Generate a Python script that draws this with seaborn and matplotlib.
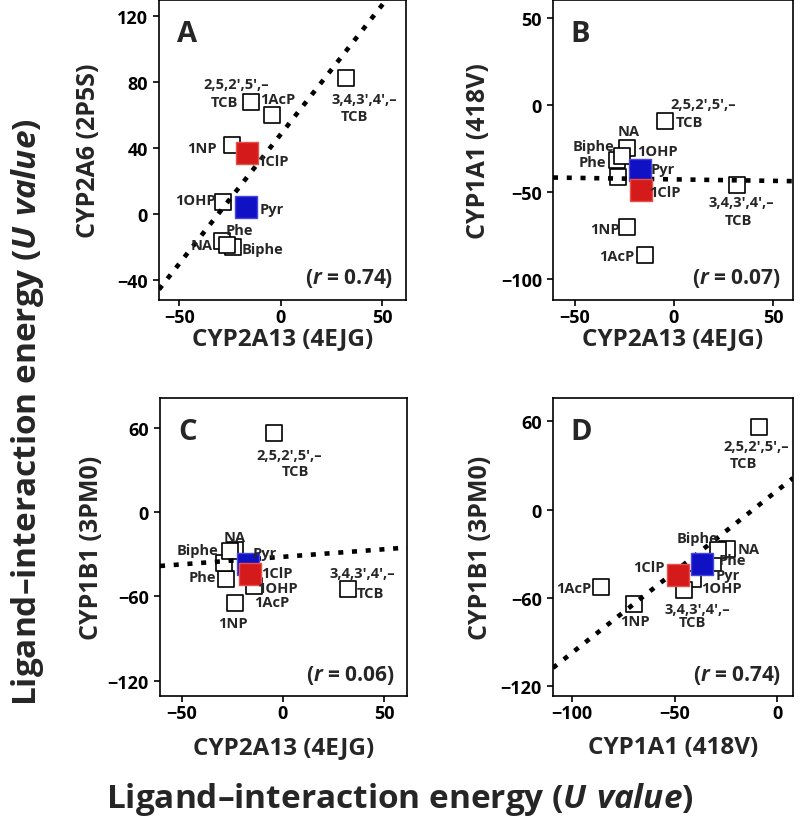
import numpy as np
import pandas as pd
import matplotlib
matplotlib.use("Agg")
import matplotlib.pyplot as plt
import seaborn as sns

# ---------------- data ----------------
compounds = ["1NP", "1AcP", "1ClP", "1OHP", "Pyr", "Phe", "NA", "Biphe", "TCB2525", "TCB3434"]
cyp2a13 = [-23.8, -14.6, -16.5, -28.3, -17.2, -29.0, -23.6, -26.4, -4.5, 32.0]
cyp2a6 = [42.0, 68.0, 37.0, 7.0, 4.0, -16.5, -20.2, -18.6, 60.0, 82.4]
cyp1a1 = [-69.8, -86.0, -48.5, -41.2, -36.9, -31.5, -24.5, -29.0, -9.2, -45.5]
cyp1b1 = [-64.6, -52.5, -44.5, -47.5, -37.2, -36.3, -26.8, -27.5, 56.0, -55.0]
r_values = ["0.74", "0.07", "0.06", "0.74"]
panel_letters = ["A", "B", "C", "D"]
x_titles = ["CYP2A13 (4EJG)", "CYP2A13 (4EJG)", "CYP2A13 (4EJG)", "CYP1A1 (418V)"]
y_titles = ["CYP2A6 (2P5S)", "CYP1A1 (418V)", "CYP1B1 (3PM0)", "CYP1B1 (3PM0)"]
x_ticks = [[-50, 0, 50], [-50, 0, 50], [-50, 0, 50], [-100, -50, 0]]
y_ticks = [[-40, 0, 40, 80, 120], [-100, -50, 0, 50], [-120, -60, 0, 60], [-120, -60, 0, 60]]
tcb1 = "2,5,2',5',\u2013"
tcb2 = "3,4,3',4',\u2013"
big_title = "Ligand\u2013interaction energy ($\\mathit{U\\ value}$)"

# ---------------- style ----------------
sns.set_theme(style="ticks")
plt.rcParams["font.family"] = ["Open Sans", "DejaVu Sans"]
plt.rcParams.update({
    "font.weight": "bold",
    "axes.labelweight": "bold",
    "mathtext.fontset": "custom",
    "mathtext.rm": "Open Sans:bold",
    "mathtext.bf": "Open Sans:bold",
    "mathtext.it": "Open Sans:italic:bold",
    "axes.linewidth": 1.2,
    "axes.edgecolor": "black",
    "xtick.major.width": 1.2,
    "ytick.major.width": 1.2,
    "xtick.major.size": 4,
    "ytick.major.size": 4,
    "xtick.color": "black",
    "ytick.color": "black",
    "axes.unicode_minus": True,
})

W, H = 800, 820
fig = plt.figure(figsize=(W / 100, H / 100), dpi=100)

def add_ax(l, t, r, b):
    return fig.add_axes([l / W, 1 - b / H, (r - l) / W, (b - t) / H])

layout = [
    dict(box=(159, 1, 406, 301), xlim=(-60, 61.7), ylim=(-52, 129.5), ylx=-0.287, xly=-0.128),
    dict(box=(553, 1, 793, 301), xlim=(-61.1, 60.1), ylim=(-111.8, 60.6), ylx=-0.312, xly=-0.128),
    dict(box=(160, 399, 407, 697), xlim=(-60.9, 61.4), ylim=(-131, 81), ylx=-0.279, xly=-0.172),
    dict(box=(553, 399, 793, 697), xlim=(-109.4, 7.6), ylim=(-127, 76), ylx=-0.304, xly=-0.172),
]

# label offsets (pixels) relative to each compound's square
labels = [
    [("TCB2525", tcb1, -35, 31), ("TCB2525", "TCB", -47, 13), ("1AcP", "1AcP", 27, 3),
     ("TCB3434", tcb2, 19, -21), ("TCB3434", "TCB", 9, -38), ("1NP", "1NP", -31, -3),
     ("1ClP", "1ClP", 26, -8), ("1OHP", "1OHP", -28, 2), ("Pyr", "Pyr", 26, -2),
     ("Phe", "Phe", 17, 11), ("NA", "NA", -31, 2), ("Biphe", "Biphe", 35, -4)],
    [("TCB2525", tcb1, 38, 17), ("TCB2525", "TCB", 24, -1), ("NA", "NA", 1, 17),
     ("Biphe", "Biphe", -28, 10), ("1OHP", "1OHP", 39, 26), ("Phe", "Phe", -24, -2),
     ("Pyr", "Pyr", 23, 1), ("1ClP", "1ClP", 24, -2), ("TCB3434", tcb2, 4, -17),
     ("TCB3434", "TCB", 1, -35), ("1NP", "1NP", -22, -2), ("1AcP", "1AcP", -28, -1)],
    [("TCB2525", tcb1, 15, -22), ("TCB2525", "TCB", 22, -38), ("NA", "NA", -1, 13),
     ("Biphe", "Biphe", -32, 1), ("Pyr", "Pyr", 16, 11), ("1OHP", "Phe", -23, 2),
     ("1ClP", "1ClP", 27, 1), ("1AcP", "1OHP", 24, -2), ("1AcP", "1AcP", 18, -16),
     ("1NP", "1NP", -2, -20), ("TCB3434", tcb2, 15, 16), ("TCB3434", "TCB", 23, -4)],
    [("TCB2525", tcb1, -2, -19), ("TCB2525", "TCB", -15, -36), ("Biphe", "Biphe", -20, 12),
     ("NA", "NA", 22, 0), ("Phe", "Phe", 20, 3), ("Pyr", "Pyr", 26, -11),
     ("1OHP", "1OHP", 29, -9), ("1ClP", "1ClP", -29, 8), ("1AcP", "1AcP", -27, -1),
     ("1NP", "1NP", 1, -17), ("TCB3434", tcb2, 13, -19), ("TCB3434", "TCB", 8, -32)],
]

pairs = [(cyp2a13, cyp2a6), (cyp2a13, cyp1a1), (cyp2a13, cyp1b1), (cyp1a1, cyp1b1)]
red, red_edge = "#d41a1a", "#e8504c"
blue, blue_edge = "#1010c4", "#4646e0"

for i, ((xs, ys), lay) in enumerate(zip(pairs, layout)):
    ax = add_ax(*lay["box"])
    df = pd.DataFrame({"compound": compounds, "x": xs, "y": ys})
    ax.set_xlim(*lay["xlim"])
    ax.set_ylim(*lay["ylim"])

    open_df = df[~df["compound"].isin(["Pyr", "1ClP"])]
    sns.scatterplot(data=open_df, x="x", y="y", marker="s", s=135, color="white",
                    edgecolor="black", linewidth=1.2, ax=ax, zorder=2, legend=False)
    sns.regplot(data=df, x="x", y="y", scatter=False, ci=None, truncate=False, ax=ax,
                line_kws=dict(color="black", lw=3.3, linestyle=(0, (1.1, 1.9)), zorder=3))
    sns.scatterplot(data=df[df["compound"] == "Pyr"], x="x", y="y", marker="s", s=240,
                    color=blue, edgecolor=blue_edge, linewidth=1.0, ax=ax, zorder=4, legend=False)
    sns.scatterplot(data=df[df["compound"] == "1ClP"], x="x", y="y", marker="s", s=240,
                    color=red, edgecolor=red_edge, linewidth=1.0, ax=ax, zorder=5, legend=False)
    ax.set_xlim(*lay["xlim"])
    ax.set_ylim(*lay["ylim"])

    pos = dict(zip(df["compound"], zip(df["x"], df["y"])))
    for comp, txt, dx, dy in labels[i]:
        ax.annotate(txt, xy=pos[comp], xytext=(dx, dy), textcoords="offset pixels",
                    ha="center", va="center", fontsize=10.5, fontweight="bold", zorder=6)

    ax.set_xticks(x_ticks[i])
    ax.set_yticks(y_ticks[i])
    ax.tick_params(axis="both", labelsize=13, direction="out")
    ax.tick_params(axis="x", pad=2)
    ax.tick_params(axis="y", pad=4)
    for lab in ax.get_xticklabels() + ax.get_yticklabels():
        lab.set_fontweight("bold")
    for sp in ax.spines.values():
        sp.set_visible(True)
        sp.set_linewidth(1.2)

    ax.set_xlabel(x_titles[i], fontsize=17.5, fontweight="bold", va="center")
    ax.set_ylabel(y_titles[i], fontsize=18, fontweight="bold", va="center")
    ax.xaxis.set_label_coords(0.5, lay["xly"])
    ax.yaxis.set_label_coords(lay["ylx"], 0.5)

    ax.text(0.072, 0.935, panel_letters[i], transform=ax.transAxes, fontsize=21,
            fontweight="bold", ha="left", va="top")
    ax.text(0.95, 0.035, r"($\mathit{r}$ = " + r_values[i] + ")", transform=ax.transAxes,
            fontsize=15, fontweight="bold", ha="right", va="bottom")

fig.text(0.5, 1 - 800 / H, big_title, ha="center", va="center", fontsize=24, fontweight="bold")
fig.text(28 / W, 1 - 412 / H, big_title, ha="center", va="center", rotation=90,
         fontsize=24, fontweight="bold")

fig.savefig("out.png", dpi=100)
